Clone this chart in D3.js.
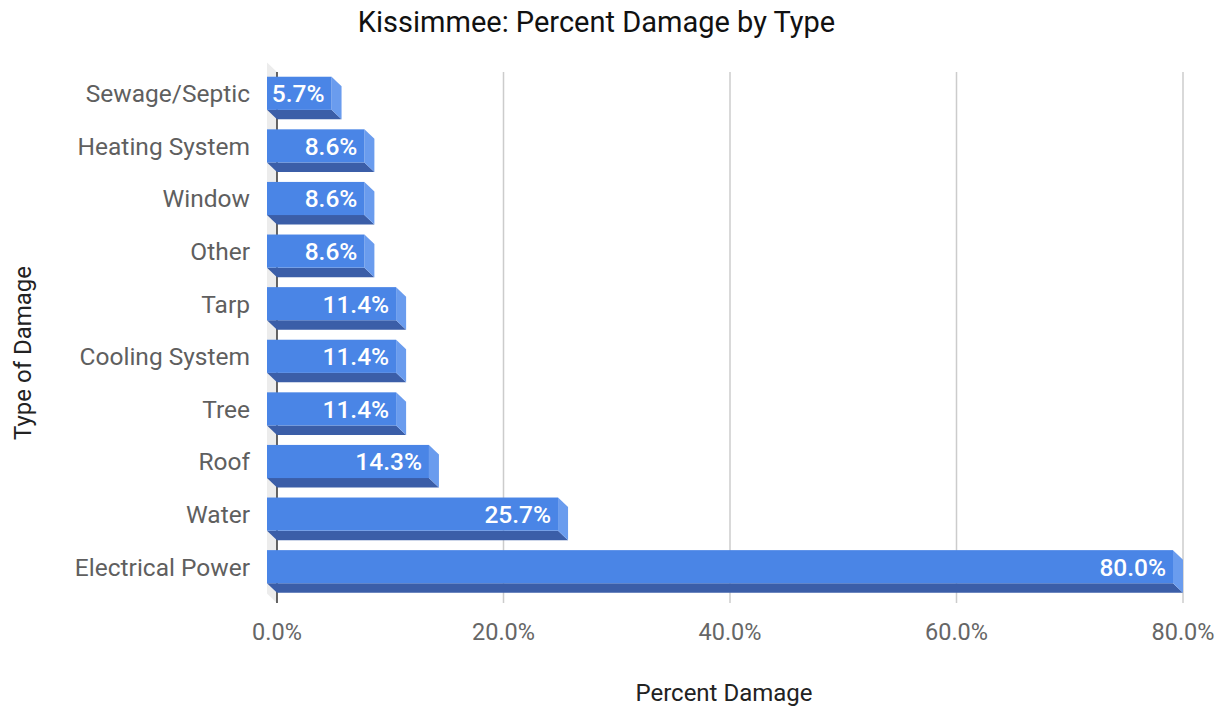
<!DOCTYPE html>
<html><head><meta charset="utf-8">
<script src="https://cdn.jsdelivr.net/npm/d3@7"></script>
<style>body{margin:0;background:#fff;} text{font-family:Roboto,"Noto Sans",sans-serif;}</style>
</head><body>
<svg id="c" width="1228" height="708"></svg>
<script>
const categories = ["Sewage/Septic","Heating System","Window","Other","Tarp","Cooling System","Tree","Roof","Water","Electrical Power"];
const values = [5.7, 8.6, 8.6, 8.6, 11.4, 11.4, 11.4, 14.3, 25.7, 80.0];
const tickValues = [0, 20, 40, 60, 80];
const title = "Kissimmee: Percent Damage by Type";
const xTitle = "Percent Damage";
const yTitle = "Type of Damage";

(function(){
const svg = d3.select("#c");
const W = 1228, H = 708;
svg.append("rect").attr("width", W).attr("height", H).attr("fill", "#fff");

const dx = 10, dy = 9.5;
const x = d3.scaleLinear().domain([0, 80]).range([277, 1183]);
const y = d3.scaleBand().domain(categories).range([76.5, 602.5]).paddingInner(0.37).paddingOuter(0.185);
const plotTop = 72, plotBottom = 603;

// left wall
svg.append("polygon")
  .attr("points", [[x(0)-dx, plotTop-dy],[x(0), plotTop],[x(0), plotBottom],[x(0)-dx, plotBottom-dy]].map(p=>p.join(",")).join(" "))
  .attr("fill", "#ececec");

// gridlines
svg.append("g").selectAll("line").data(tickValues.filter(t => t > 0)).join("line")
  .attr("x1", d => x(d)).attr("x2", d => x(d)).attr("y1", plotTop).attr("y2", plotBottom)
  .attr("stroke", "#cccccc").attr("stroke-width", 1.5);

// zero axis
svg.append("line").attr("x1", x(0)).attr("x2", x(0)).attr("y1", plotTop).attr("y2", plotBottom)
  .attr("stroke", "#333").attr("stroke-width", 1.5);

// bars
const bars = svg.append("g").selectAll("g").data(categories).join("g");
bars.each(function(c, i) {
  const g = d3.select(this);
  const v = values[i];
  const xb0 = x(0), xb1 = x(v), yb0 = y(c), yb1 = y(c) + y.bandwidth();
  const fx0 = xb0 - dx, fx1 = xb1 - dx, fy0 = yb0 - dy, fy1 = yb1 - dy;
  g.append("polygon").attr("points", [[fx0, fy1],[fx1, fy1],[xb1, yb1],[xb0, yb1]].map(p=>p.join(",")).join(" "))
    .attr("fill", "#3b5ea8");
  g.append("polygon").attr("points", [[fx1, fy0],[xb1, yb0],[xb1, yb1],[fx1, fy1]].map(p=>p.join(",")).join(" "))
    .attr("fill", "#6a9cee");
  g.append("rect").attr("x", fx0).attr("y", fy0).attr("width", fx1 - fx0).attr("height", fy1 - fy0)
    .attr("fill", "#4a85e6");
  g.append("text").attr("x", fx1 - 7).attr("y", (fy0 + fy1) / 2).attr("dy", "0.36em")
    .attr("text-anchor", "end").attr("fill", "#fff").attr("font-size", 24.5).attr("font-weight", 500)
    .text(v.toFixed(1) + "%");
});

// category labels
svg.append("g").selectAll("text").data(categories).join("text")
  .attr("x", 250).attr("y", d => y(d) + y.bandwidth()/2 - dy).attr("dy", "0.36em")
  .attr("text-anchor", "end").attr("fill", "#5f5f5f").attr("font-size", 24.5)
  .text(d => d);

// tick labels
svg.append("g").selectAll("text").data(tickValues).join("text")
  .attr("x", d => x(d)).attr("y", 640)
  .attr("text-anchor", "middle").attr("fill", "#666").attr("font-size", 23.5)
  .text(d => d.toFixed(1) + "%");

// titles
svg.append("text").attr("x", 596.5).attr("y", 32).attr("text-anchor", "middle")
  .attr("fill", "#111").attr("font-size", 29).text(title);
svg.append("text").attr("x", 724).attr("y", 701).attr("text-anchor", "middle")
  .attr("fill", "#222").attr("font-size", 24).text(xTitle);
svg.append("text").attr("transform", "translate(31,353) rotate(-90)").attr("text-anchor", "middle")
  .attr("fill", "#222").attr("font-size", 24).text(yTitle);
})();
</script>
</body></html>
